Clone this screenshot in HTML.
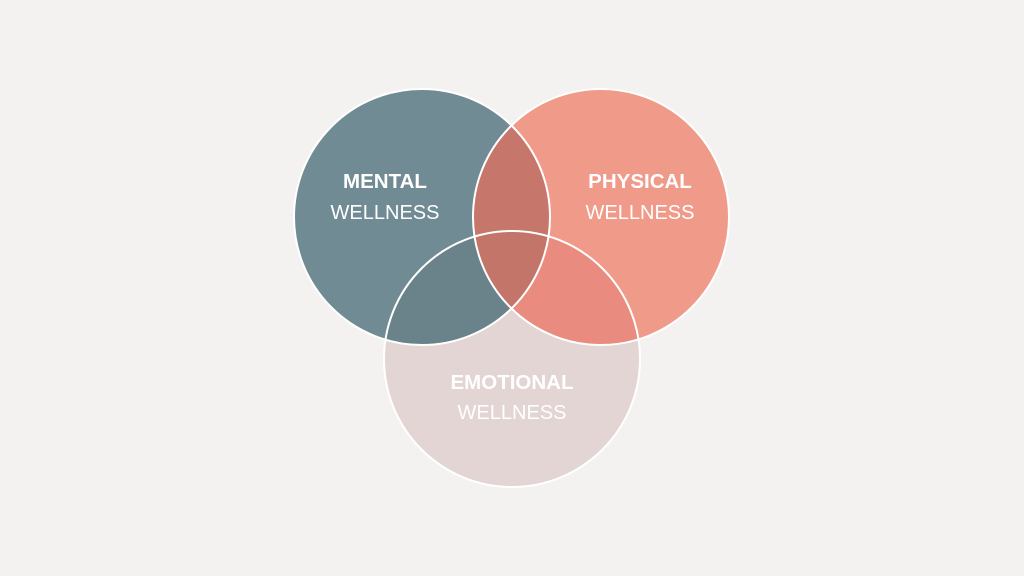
<!DOCTYPE html>
<html><head><meta charset="utf-8"><style>
html,body{margin:0;padding:0;background:#f4f2f0;}
svg{display:block}
text{font-family:"Liberation Sans",sans-serif;fill:#fff;text-anchor:middle}
.b{font-weight:bold;font-size:20.5px}
.r{font-size:20px}
</style></head><body>
<svg width="1024" height="576" viewBox="0 0 1024 576">
<defs>
<clipPath id="cm"><circle cx="422" cy="217" r="128"/></clipPath>
<clipPath id="cp"><circle cx="601" cy="217" r="128"/></clipPath>
<clipPath id="ce"><circle cx="512" cy="359" r="128"/></clipPath>
</defs>
<rect width="1024" height="576" fill="#f4f2f0"/>
<circle cx="422" cy="217" r="128" fill="#718b94"/>
<circle cx="601" cy="217" r="128" fill="#f09a8a"/>
<circle cx="512" cy="359" r="128" fill="#e2d5d3"/>
<g clip-path="url(#cm)">
<circle cx="601" cy="217" r="128" fill="#c7766b"/>
<circle cx="512" cy="359" r="128" fill="#6a8289"/>
</g>
<g clip-path="url(#cp)">
<circle cx="512" cy="359" r="128" fill="#e98c7f"/>
</g>
<g clip-path="url(#cm)"><g clip-path="url(#cp)">
<circle cx="512" cy="359" r="128" fill="#c37569"/>
</g></g>
<g fill="none" stroke="#fff" stroke-width="2">
<circle cx="422" cy="217" r="128"/>
<circle cx="601" cy="217" r="128"/>
<circle cx="512" cy="359" r="128"/>
</g>
<text class="b" x="385" y="188">MENTAL</text>
<text class="r" x="385" y="219">WELLNESS</text>
<text class="b" x="640" y="188">PHYSICAL</text>
<text class="r" x="640" y="219">WELLNESS</text>
<text class="b" x="512" y="389">EMOTIONAL</text>
<text class="r" x="512" y="419">WELLNESS</text>
</svg>
</body></html>
